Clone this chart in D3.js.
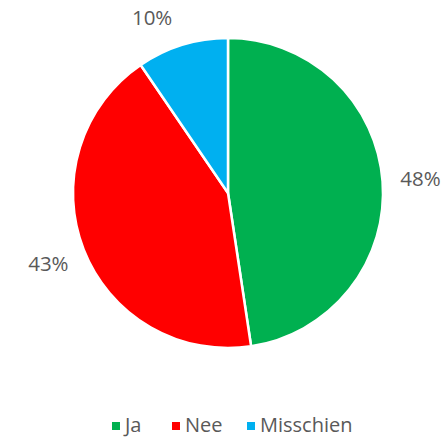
<!DOCTYPE html>
<html>
<head>
<meta charset="utf-8">
<script src="https://cdn.jsdelivr.net/npm/d3@7"></script>
<style>
  body { margin: 0; background: #fff; }
  text { font-family: 'Open Sans', 'Liberation Sans', sans-serif; fill: #595959; }
</style>
</head>
<body>
<div id="chart"></div>
<script>
const categories = ['Ja', 'Nee', 'Misschien']
const values = [10, 9, 2]
const labels = ['48%', '43%', '10%']
const colors = ['#00B050', '#FF0000', '#00B0F0']

const width = 446
const height = 438
const cx = 228
const cy = 193
const radius = 155

const svg = d3
  .select('#chart')
  .append('svg')
  .attr('width', width)
  .attr('height', height)

const colorScale = d3.scaleOrdinal().domain(categories).range(colors)

const pie = d3.pie().sort(null).value(d => d.value)
const arcs = pie(categories.map((c, i) => ({ key: c, value: values[i], label: labels[i] })))

const arc = d3.arc().innerRadius(0).outerRadius(radius)
const labelArc = d3.arc().innerRadius(193).outerRadius(193)

const g = svg.append('g').attr('transform', `translate(${cx},${cy})`)

g.selectAll('path')
  .data(arcs)
  .enter()
  .append('path')
  .attr('d', arc)
  .attr('fill', d => colorScale(d.data.key))
  .attr('stroke', 'white')
  .attr('stroke-width', 2.5)
  .attr('stroke-linejoin', 'round')

// small slice label gets pushed left like Excel does
const nudge = { Misschien: [-19, 9] }

g.selectAll('.slice-label')
  .data(arcs)
  .enter()
  .append('text')
  .attr('class', 'slice-label')
  .attr('transform', d => {
    const p = labelArc.centroid(d)
    const n = nudge[d.data.key] || [0, 0]
    return `translate(${p[0] + n[0]},${p[1] + n[1]})`
  })
  .attr('text-anchor', 'middle')
  .attr('dy', '0.35em')
  .attr('font-size', 20.5)
  .text(d => d.data.label)

// legend
const legendX = [112, 172, 247]
const legend = svg.append('g').attr('transform', 'translate(0,425)')

legend
  .selectAll('.legend-entry')
  .data(categories)
  .enter()
  .append('g')
  .attr('class', 'legend-entry')
  .attr('transform', (d, i) => `translate(${legendX[i]},0)`)
  .each(function(d) {
    const e = d3.select(this)
    e.append('rect')
      .attr('x', 0)
      .attr('y', -3)
      .attr('width', 8)
      .attr('height', 8)
      .attr('fill', colorScale(d))
    e.append('text')
      .attr('x', 13)
      .attr('y', 0)
      .attr('dy', '0.35em')
      .attr('font-size', 20)
      .text(d)
  })
</script>
</body>
</html>
